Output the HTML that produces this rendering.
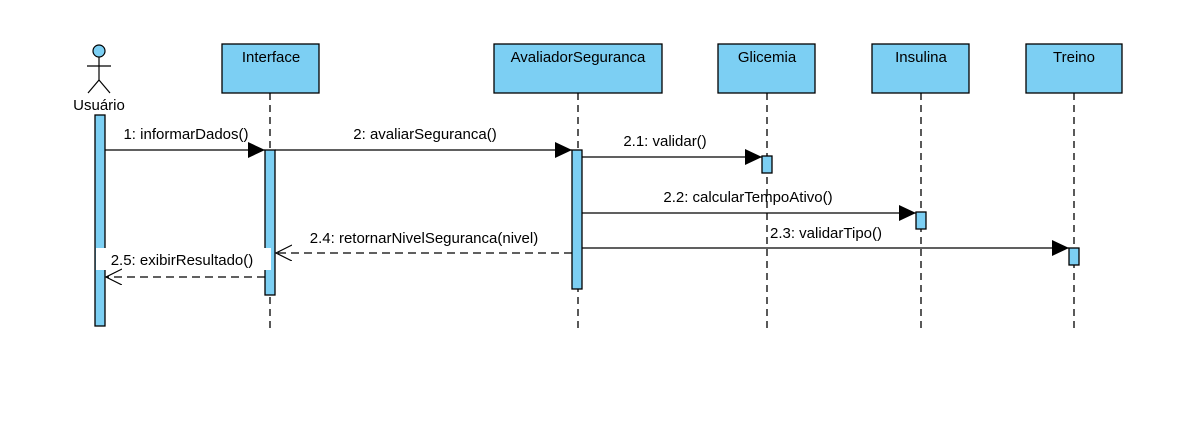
<!DOCTYPE html>
<html><head><meta charset="utf-8"><style>
html,body{margin:0;padding:0;background:#fff;}
svg{display:block;}
text{font-family:"Liberation Sans",Arial,sans-serif;font-size:15px;fill:#000;}
</style></head><body>
<svg width="1200" height="436" viewBox="0 0 1200 436" xmlns="http://www.w3.org/2000/svg">
<defs>
<marker id="f" markerWidth="18" markerHeight="16" refX="17" refY="8" orient="auto" markerUnits="userSpaceOnUse"><path d="M0,0 L17,8 L0,16 Z" fill="#000"/></marker>
<marker id="o" markerWidth="18" markerHeight="18" refX="16" refY="8" orient="auto" markerUnits="userSpaceOnUse"><path d="M0,0 L16,8 L0,16" fill="none" stroke="#000" stroke-width="1.2"/></marker>
</defs>
<g stroke="#000" stroke-width="1.3" stroke-dasharray="7,5">
<line x1="270" y1="93" x2="270" y2="328"/>
<line x1="578" y1="93" x2="578" y2="328"/>
<line x1="767" y1="93" x2="767" y2="328"/>
<line x1="921" y1="93" x2="921" y2="328"/>
<line x1="1074" y1="93" x2="1074" y2="328"/>
</g>
<g fill="#7ccff3" stroke="#000" stroke-width="1.3">
<rect x="222" y="44" width="97" height="49"/>
<rect x="494" y="44" width="168" height="49"/>
<rect x="718" y="44" width="97" height="49"/>
<rect x="872" y="44" width="97" height="49"/>
<rect x="1026" y="44" width="96" height="49"/>
</g>
<text x="271" y="62" text-anchor="middle">Interface</text>
<text x="578" y="62" text-anchor="middle">AvaliadorSeguranca</text>
<text x="767" y="62" text-anchor="middle">Glicemia</text>
<text x="921" y="62" text-anchor="middle">Insulina</text>
<text x="1074" y="62" text-anchor="middle">Treino</text>
<g stroke="#000" stroke-width="1.2" fill="none">
<circle cx="99" cy="51" r="6" fill="#7ccff3"/>
<line x1="99" y1="57" x2="99" y2="80"/>
<line x1="87" y1="66" x2="111" y2="66"/>
<line x1="99" y1="80" x2="88" y2="93"/>
<line x1="99" y1="80" x2="110" y2="93"/>
</g>
<text x="99" y="110" text-anchor="middle">Usuário</text>
<g fill="#7ccff3" stroke="#000" stroke-width="1.3">
<rect x="95" y="115" width="10" height="211"/>
<rect x="265" y="150" width="10" height="145"/>
<rect x="572" y="150" width="10" height="139"/>
<rect x="762" y="156" width="10" height="17"/>
<rect x="916" y="212" width="10" height="17"/>
<rect x="1069" y="248" width="10" height="17"/>
</g>
<g stroke="#000" stroke-width="1.3" fill="none">
<line x1="105" y1="150" x2="265" y2="150" marker-end="url(#f)"/>
<line x1="275" y1="150" x2="572" y2="150" marker-end="url(#f)"/>
<line x1="582" y1="157" x2="762" y2="157" marker-end="url(#f)"/>
<line x1="582" y1="213" x2="916" y2="213" marker-end="url(#f)"/>
<line x1="582" y1="248" x2="1069" y2="248" marker-end="url(#f)"/>
<line x1="572" y1="253" x2="276" y2="253" stroke-dasharray="8,5" marker-end="url(#o)"/>
</g>
<rect x="96" y="248" width="175" height="22" fill="#fff"/>
<line x1="265" y1="277" x2="106" y2="277" stroke="#000" stroke-width="1.3" stroke-dasharray="8,5" marker-end="url(#o)"/>
<text x="186" y="139" text-anchor="middle">1: informarDados()</text>
<text x="425" y="139" text-anchor="middle">2: avaliarSeguranca()</text>
<text x="665" y="146" text-anchor="middle">2.1: validar()</text>
<text x="748" y="202" text-anchor="middle">2.2: calcularTempoAtivo()</text>
<text x="826" y="238" text-anchor="middle">2.3: validarTipo()</text>
<text x="424" y="243" text-anchor="middle">2.4: retornarNivelSeguranca(nivel)</text>
<text x="182" y="265" text-anchor="middle">2.5: exibirResultado()</text>
</svg>
</body></html>
